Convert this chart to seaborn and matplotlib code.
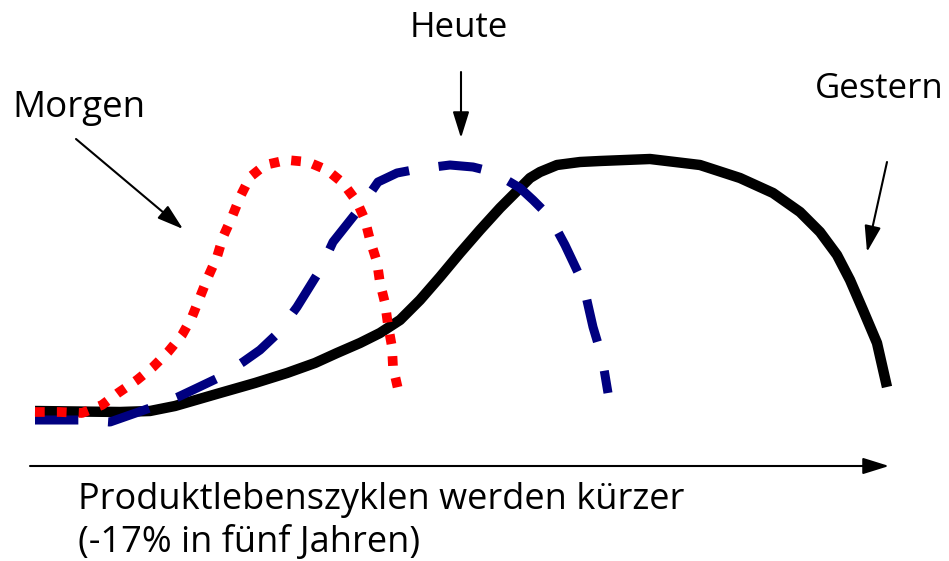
import matplotlib
matplotlib.use("Agg")
import matplotlib.pyplot as plt
import seaborn as sns

# curve points (pixel-like units, y grows downward)
gestern_x = [35, 120, 150, 175, 220, 255, 287, 315, 337, 360, 380, 400, 420, 440,
             460, 480, 500, 520, 530, 540, 557, 580, 600, 650, 700, 740, 773, 800,
             820, 837, 850, 863, 877, 887]
gestern_y = [411, 412, 411, 406, 393, 383, 373, 363, 353, 343, 333, 320, 300, 277,
             253, 230, 208, 188, 178, 172, 165, 162, 161, 159, 165, 178, 193, 212,
             232, 255, 280, 310, 343, 387]

heute_x = [35, 80, 110, 130, 150, 178, 197, 218, 243, 260, 278, 297, 320, 333, 360,
           378, 397, 418, 450, 473, 493, 520, 533, 550, 565, 583, 593, 602, 608]
heute_y = [420, 420, 422, 415, 408, 397, 388, 378, 362, 350, 333, 307, 270, 242, 208,
           182, 173, 169, 165, 167, 172, 188, 200, 217, 245, 283, 327, 357, 393]

morgen_x = [35, 60, 82, 102, 118, 137, 153, 168, 182, 192, 200, 208, 217, 223, 232,
            240, 250, 265, 287, 308, 327, 343, 357, 365, 370, 377, 380, 385, 388,
            392, 393, 398]
morgen_y = [412, 412, 413, 405, 393, 380, 367, 352, 335, 317, 297, 277, 257, 237, 217,
            197, 177, 165, 160, 162, 170, 183, 202, 220, 240, 262, 283, 303, 325,
            347, 367, 389]

labels = ["Morgen", "Heute", "Gestern"]
axis_lines = ["Produktlebenszyklen werden kürzer", "(-17% in fünf Jahren)"]

sns.set_style("white")
plt.rcParams['font.family'] = ['Open Sans', 'DejaVu Sans']

fig = plt.figure(figsize=(9.49, 5.61), dpi=100)
ax = fig.add_axes([0, 0, 1, 1])

sns.lineplot(x=gestern_x, y=gestern_y, sort=False, color='black', lw=7.5,
             solid_capstyle='butt', solid_joinstyle='round', ax=ax)
sns.lineplot(x=heute_x, y=heute_y, sort=False, color='#000080', lw=6.5,
             linestyle=(0, (4.8, 3.3)), dash_capstyle='butt',
             dash_joinstyle='round', ax=ax)
sns.lineplot(x=morgen_x, y=morgen_y, sort=False, color='red', lw=7,
             linestyle=(0, (1, 1.25)), dash_capstyle='butt',
             dash_joinstyle='round', ax=ax)

ax.set_xlim(0, 949)
ax.set_ylim(561, 0)
ax.axis('off')

arrow = dict(arrowstyle='-|>,head_length=0.8,head_width=0.25', color='black',
             lw=1.5, mutation_scale=20, shrinkA=0, shrinkB=0)
ax.annotate('', xy=(183, 229), xytext=(76, 139), arrowprops=arrow)
ax.annotate('', xy=(461, 138), xytext=(461, 72), arrowprops=arrow)
ax.annotate('', xy=(867, 252), xytext=(887, 162), arrowprops=arrow)
ax.annotate('', xy=(889, 466), xytext=(30, 466), arrowprops=arrow)

ax.text(12, 117, labels[0], fontsize=26.5, ha='left', va='baseline', color='black')
ax.text(459, 37, labels[1], fontsize=25, ha='center', va='baseline', color='black')
ax.text(815, 98, labels[2], fontsize=25, ha='left', va='baseline', color='black')
ax.text(78, 509, axis_lines[0], fontsize=26, ha='left', va='baseline', color='black')
ax.text(78, 552, axis_lines[1], fontsize=26, ha='left', va='baseline', color='black')

fig.savefig('out.png', dpi=100)
